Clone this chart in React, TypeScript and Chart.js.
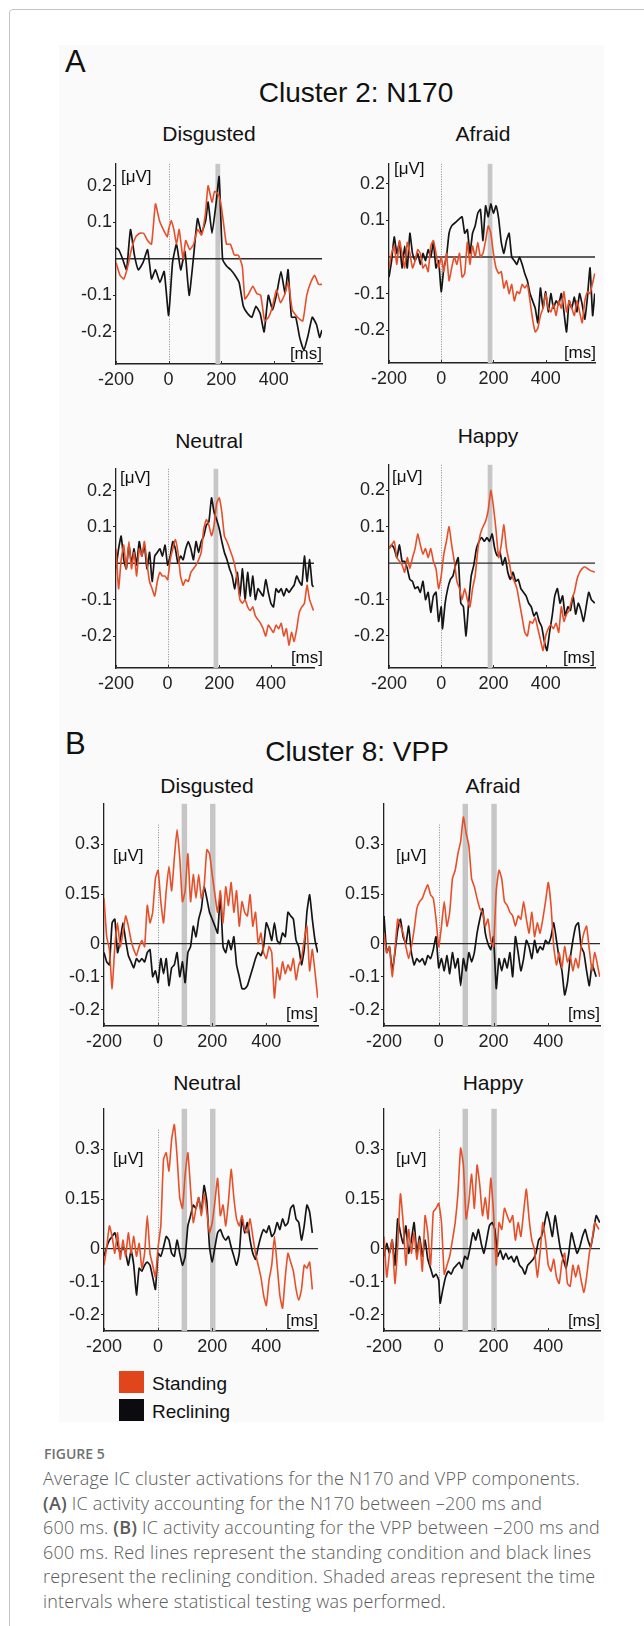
import React, { useEffect, useRef } from "react";
import { Chart, registerables } from "chart.js";

Chart.register(...registerables);
Chart.defaults.font.family = "'Liberation Sans', Arial, sans-serif";

type P = [number, number][];

// ---------- Panel A: Cluster 2, N170 ----------
const A_DISG_RECL: P = [[-200,0.03],[-190,0.025],[-175,0],[-160,-0.03],[-145,0.08],[-130,0.01],[-115,-0.03],[-97,-0.01],[-80,0.025],[-65,-0.055],[-50,-0.03],[-33,-0.065],[-17,-0.035],[0,-0.155],[15,-0.01],[30,0.04],[46,-0.03],[62,0.02],[78,-0.1],[94,0],[110,0.11],[125,0.07],[141,0.105],[150,0.155],[165,0.07],[181,0.155],[192,0.225],[205,0],[220,-0.02],[236,-0.03],[252,-0.045],[268,-0.065],[284,-0.13],[300,-0.15],[316,-0.16],[332,-0.13],[348,-0.15],[363,-0.2],[379,-0.1],[395,-0.14],[411,-0.095],[427,-0.035],[443,-0.095],[454,-0.03],[467,-0.16],[483,-0.16],[498,-0.215],[514,-0.25],[530,-0.21],[546,-0.16],[562,-0.18],[574,-0.215],[583,-0.195]];
const A_DISG_STAND: P = [[-200,-0.01],[-185,-0.045],[-170,-0.055],[-155,-0.02],[-140,0.03],[-125,0.06],[-110,0.07],[-95,0.07],[-80,0.05],[-65,0.04],[-50,0.15],[-35,0.105],[-20,0.08],[-5,0.06],[0,0.08],[10,0.105],[20,0.08],[30,0.04],[40,0.08],[55,0],[65,0.05],[80,0.025],[95,0.04],[110,0.08],[125,0.065],[140,0.125],[150,0.2],[165,0.155],[175,0.185],[190,0.175],[200,0.145],[210,0.09],[220,0.04],[235,0.04],[250,0.01],[265,0.01],[280,-0.02],[290,-0.11],[305,-0.095],[320,-0.075],[335,-0.095],[350,-0.1],[365,-0.17],[380,-0.16],[395,-0.13],[410,-0.085],[425,-0.12],[440,-0.1],[455,-0.065],[470,-0.14],[490,-0.16],[510,-0.17],[525,-0.1],[540,-0.065],[555,-0.045],[570,-0.07],[583,-0.07]];

const A_AFR_RECL: P = [[-200,-0.055],[-190,-0.01],[-180,0.055],[-170,0.01],[-160,0.04],[-150,-0.03],[-140,0.03],[-130,-0.03],[-120,0.065],[-110,0.01],[-100,-0.01],[-90,0.01],[-80,-0.02],[-70,0.01],[-60,-0.01],[-50,0.02],[-40,0],[-30,0.04],[-20,-0.03],[-10,-0.01],[0,-0.095],[10,-0.03],[20,0],[30,0.065],[40,0.085],[55,0.095],[70,0.105],[80,0.11],[90,0.065],[100,0.075],[110,0.01],[120,0.065],[130,0.085],[140,0.12],[150,0.13],[160,0.045],[170,0.14],[180,0.11],[190,0.145],[200,0.12],[210,0.14],[220,0.105],[230,0.04],[240,0.01],[250,0.045],[260,0.065],[270,0],[280,-0.01],[290,-0.02],[300,0],[310,-0.02],[320,-0.045],[330,-0.065],[340,-0.1],[350,-0.12],[360,-0.14],[370,-0.18],[380,-0.085],[390,-0.14],[400,-0.095],[410,-0.15],[420,-0.1],[430,-0.14],[440,-0.12],[450,-0.13],[460,-0.1],[470,-0.15],[480,-0.205],[490,-0.12],[500,-0.14],[510,-0.11],[520,-0.15],[530,-0.1],[540,-0.13],[550,-0.17],[560,-0.11],[570,-0.03],[580,-0.16],[588,-0.1]];
const A_AFR_STAND: P = [[-200,-0.03],[-190,0.01],[-180,0.03],[-170,-0.02],[-160,0.045],[-150,0.01],[-140,-0.03],[-130,0.04],[-120,0.01],[-110,-0.03],[-100,-0.01],[-90,0.02],[-80,0.01],[-70,-0.03],[-60,-0.02],[-50,-0.04],[-40,0.03],[-30,0.045],[-20,0.01],[-10,-0.03],[0,0],[10,-0.04],[20,0.01],[30,-0.065],[40,-0.03],[50,0],[60,-0.02],[70,0.01],[80,-0.055],[90,-0.045],[100,0.04],[110,-0.02],[120,0.03],[130,0],[140,0.04],[150,0],[160,0.01],[170,0.045],[180,0.085],[190,0.065],[200,0.01],[210,-0.03],[220,-0.045],[230,-0.04],[240,-0.085],[250,-0.065],[260,-0.1],[270,-0.075],[280,-0.12],[290,-0.095],[300,-0.1],[310,-0.075],[320,-0.085],[330,-0.075],[340,-0.12],[350,-0.17],[360,-0.205],[370,-0.195],[380,-0.16],[390,-0.14],[400,-0.1],[410,-0.14],[420,-0.15],[430,-0.13],[440,-0.16],[450,-0.12],[460,-0.14],[470,-0.095],[480,-0.15],[490,-0.12],[500,-0.14],[510,-0.16],[520,-0.12],[530,-0.15],[540,-0.18],[550,-0.12],[560,-0.095],[570,-0.1],[588,-0.045]];

const A_NEU_RECL: P = [[-200,-0.015],[-190,0.04],[-180,0.075],[-170,0.01],[-160,-0.015],[-150,0.05],[-140,0],[-130,0.04],[-120,-0.005],[-110,0.06],[-100,0.02],[-90,0.05],[-80,-0.015],[-70,0.03],[-60,-0.05],[-50,0.02],[-40,0.03],[-30,0.04],[-20,0.02],[-10,0.05],[0,-0.005],[10,0.02],[20,0.06],[30,0.04],[40,0],[50,0.02],[60,0.01],[70,0.04],[80,0.06],[90,0.04],[100,0.01],[110,0.06],[120,0.03],[130,0.06],[140,0.075],[150,0.105],[160,0.115],[170,0.18],[180,0.14],[190,0.12],[200,0.095],[210,0.06],[220,0.03],[230,0.01],[240,-0.015],[250,-0.035],[260,-0.07],[270,-0.025],[280,-0.09],[290,-0.015],[300,-0.1],[310,-0.025],[320,-0.09],[330,-0.035],[340,-0.1],[350,-0.07],[360,-0.08],[370,-0.09],[380,-0.045],[390,-0.08],[400,-0.11],[410,-0.12],[420,-0.07],[430,-0.08],[440,-0.07],[450,-0.09],[460,-0.07],[470,-0.08],[480,-0.07],[490,-0.06],[500,-0.035],[510,-0.05],[520,-0.06],[530,0.02],[540,-0.05],[550,0.01],[560,-0.06],[565,-0.065]];
const A_NEU_STAND: P = [[-200,0.04],[-190,-0.07],[-180,0.01],[-170,0.05],[-160,-0.015],[-150,0.06],[-140,-0.015],[-130,0.03],[-120,-0.035],[-110,0.04],[-100,0.02],[-90,0.06],[-80,0],[-70,-0.05],[-60,-0.07],[-50,-0.09],[-40,-0.05],[-30,-0.025],[-20,-0.035],[-10,-0.035],[0,-0.045],[10,0.01],[20,0.04],[30,0.065],[40,0.03],[50,-0.035],[60,-0.06],[70,-0.045],[80,-0.05],[90,-0.025],[100,-0.015],[110,-0.005],[120,0.01],[130,0.03],[140,0.095],[150,0.12],[160,0.105],[170,0.075],[180,0.105],[190,0.165],[200,0.18],[210,0.14],[220,0.075],[230,0.06],[240,0.04],[250,0.02],[260,-0.005],[270,-0.045],[280,-0.1],[290,-0.11],[300,-0.1],[310,-0.12],[320,-0.13],[330,-0.12],[340,-0.145],[350,-0.155],[360,-0.165],[370,-0.18],[380,-0.2],[390,-0.17],[400,-0.18],[410,-0.19],[420,-0.17],[430,-0.18],[440,-0.165],[450,-0.2],[460,-0.18],[470,-0.225],[480,-0.19],[490,-0.215],[500,-0.18],[510,-0.135],[520,-0.12],[530,-0.11],[540,-0.06],[550,-0.1],[565,-0.13]];

const A_HAP_RECL: P = [[-200,0.04],[-190,0.05],[-180,0.04],[-170,0.015],[-160,0.05],[-150,0.005],[-140,0.005],[-130,-0.015],[-120,-0.045],[-110,-0.05],[-100,-0.07],[-90,-0.065],[-80,-0.08],[-70,-0.05],[-60,-0.1],[-50,-0.08],[-40,-0.135],[-30,-0.09],[-20,-0.08],[-10,-0.16],[0,-0.12],[5,-0.18],[15,-0.11],[25,-0.07],[35,-0.045],[45,-0.035],[55,-0.005],[65,0.015],[75,-0.11],[85,-0.12],[95,-0.2],[105,-0.11],[115,-0.035],[125,-0.005],[135,0.04],[145,0.06],[155,0.07],[165,0.06],[175,0.07],[185,0.06],[195,0.08],[205,0.04],[215,0.02],[225,0.03],[235,-0.005],[245,0.015],[255,-0.025],[265,-0.045],[275,-0.025],[285,-0.05],[295,-0.045],[305,-0.07],[315,-0.08],[325,-0.09],[335,-0.11],[345,-0.12],[355,-0.145],[365,-0.135],[375,-0.16],[385,-0.175],[395,-0.215],[405,-0.24],[415,-0.19],[425,-0.145],[435,-0.09],[445,-0.07],[455,-0.11],[465,-0.09],[475,-0.145],[485,-0.12],[495,-0.13],[505,-0.09],[515,-0.14],[525,-0.11],[535,-0.13],[545,-0.16],[555,-0.12],[565,-0.08],[575,-0.1],[588,-0.11]];
const A_HAP_STAND: P = [[-200,0.04],[-190,0.05],[-180,0.06],[-170,0.015],[-160,0.005],[-150,-0.005],[-140,-0.025],[-130,0.015],[-120,-0.015],[-110,0.015],[-100,0.04],[-90,0.08],[-80,0.05],[-70,0.025],[-60,0.04],[-50,0.015],[-40,0.04],[-30,0.005],[-20,-0.015],[-10,-0.07],[0,-0.035],[10,0.025],[20,0.06],[30,0.1],[40,0.05],[50,0.005],[60,-0.05],[70,-0.07],[80,-0.1],[90,-0.07],[100,-0.1],[110,-0.12],[120,-0.07],[130,-0.035],[140,0.035],[150,0.08],[160,0.1],[170,0.115],[180,0.145],[190,0.2],[200,0.155],[210,0.09],[220,0.015],[230,0.05],[240,0.105],[250,0.04],[260,0.005],[270,-0.035],[280,-0.05],[290,-0.07],[300,-0.11],[310,-0.15],[320,-0.19],[330,-0.2],[340,-0.16],[350,-0.165],[360,-0.15],[370,-0.18],[380,-0.21],[390,-0.24],[400,-0.2],[410,-0.18],[420,-0.17],[430,-0.18],[440,-0.165],[450,-0.19],[460,-0.12],[470,-0.16],[480,-0.14],[490,-0.13],[500,-0.1],[510,-0.08],[520,-0.045],[530,-0.025],[540,-0.015],[550,-0.01],[560,-0.015],[570,-0.02],[588,-0.025]];

// ---------- Panel B: Cluster 8, VPP ----------
const B_DISG_RECL: P = [[-200,-0.027],[-190,-0.055],[-180,-0.064],[-170,0.063],[-160,0.074],[-150,-0.027],[-140,0.01],[-130,0.063],[-120,0.01],[-110,-0.036],[-100,-0.055],[-90,-0.073],[-80,-0.045],[-70,-0.055],[-60,-0.045],[-50,-0.055],[-40,-0.027],[-30,-0.018],[-20,-0.1],[-10,-0.082],[0,-0.118],[10,-0.045],[20,-0.091],[30,-0.045],[40,-0.127],[50,-0.073],[60,-0.064],[70,-0.027],[80,-0.1],[90,-0.055],[100,-0.118],[110,-0.027],[120,-0.009],[130,0.053],[140,0.021],[150,0.074],[160,0.106],[170,0.172],[180,0.137],[190,0.095],[200,0.074],[210,0.053],[220,0.032],[230,0.148],[240,-0.009],[250,-0.027],[260,0.01],[270,-0.018],[280,0.021],[290,-0.064],[300,-0.1],[310,-0.136],[320,-0.136],[330,-0.127],[340,-0.1],[350,-0.073],[360,-0.045],[370,-0.027],[380,-0.036],[390,-0.009],[400,0.063],[410,0.042],[420,0.01],[430,0.063],[440,0.01],[450,0],[460,0.032],[470,0.021],[480,0.095],[490,0.084],[500,0.074],[510,0.01],[520,-0.009],[530,-0.064],[540,-0.018],[550,0.095],[560,0.148],[570,0.074],[580,0.01],[590,-0.027]];
const B_DISG_STAND: P = [[-200,0.137],[-190,0.021],[-180,-0.018],[-170,-0.136],[-160,-0.009],[-150,0.063],[-140,-0.009],[-130,0.032],[-120,0.084],[-110,0.053],[-100,0.01],[-90,-0.018],[-80,-0.036],[-70,-0.009],[-60,0.01],[-50,-0.009],[-40,0.116],[-30,0.063],[-20,0.095],[-10,0.197],[0,0.222],[10,0.127],[20,0.063],[30,0.16],[40,0.234],[50,0.16],[60,0.259],[70,0.345],[80,0.259],[90,0.127],[100,0.16],[110,0.272],[120,0.127],[130,0.209],[140,0.137],[150,0.209],[160,0.137],[170,0.172],[180,0.284],[190,0.272],[200,0.209],[210,0.148],[220,0.095],[230,0.16],[240,0.063],[250,0.172],[260,0.116],[270,0.185],[280,0.095],[290,0.16],[300,0.053],[310,0.127],[320,0.095],[330,0.084],[340,0.148],[350,0.053],[360,0.095],[370,0],[380,0.032],[390,-0.027],[400,-0.045],[410,-0.009],[420,-0.027],[430,-0.164],[440,-0.073],[450,-0.109],[460,-0.055],[470,-0.091],[480,-0.064],[490,-0.082],[500,-0.045],[510,-0.109],[520,-0.064],[530,-0.045],[540,0.01],[550,0.053],[560,-0.082],[570,-0.018],[590,-0.164]];

const B_AFR_RECL: P = [[-200,0.084],[-190,-0.027],[-180,-0.009],[-170,-0.082],[-160,-0.027],[-150,0.042],[-140,0.074],[-130,0.021],[-120,0],[-110,0.053],[-100,-0.027],[-90,-0.064],[-80,-0.045],[-70,-0.055],[-60,-0.045],[-50,-0.064],[-40,-0.036],[-30,-0.045],[-20,-0.018],[-10,0.021],[0,-0.073],[10,-0.045],[20,-0.082],[30,-0.036],[40,-0.091],[50,-0.027],[60,-0.073],[70,-0.045],[80,-0.127],[90,-0.045],[100,-0.082],[110,-0.027],[120,-0.055],[130,-0.027],[140,0.032],[150,0.074],[160,0.106],[170,0.032],[180,0],[190,-0.018],[200,0.021],[210,-0.136],[220,-0.045],[230,-0.082],[240,-0.045],[250,-0.073],[260,-0.027],[270,-0.1],[280,0.021],[290,-0.027],[300,-0.082],[310,-0.045],[320,0.01],[330,-0.009],[340,-0.045],[350,0.01],[360,-0.027],[370,-0.009],[380,-0.018],[390,0.01],[400,0],[410,0.021],[420,0.063],[430,0.01],[440,-0.045],[450,-0.082],[460,-0.155],[470,-0.118],[480,-0.045],[490,0.01],[500,0.053],[510,0.063],[520,-0.009],[530,-0.027],[540,-0.082],[550,-0.127],[560,-0.064],[575,-0.1]];
const B_AFR_STAND: P = [[-200,0.032],[-190,-0.027],[-180,-0.009],[-170,-0.1],[-160,-0.018],[-150,0.074],[-140,0.053],[-130,0.032],[-120,-0.009],[-110,-0.045],[-100,-0.009],[-90,0.042],[-80,0.106],[-70,0.127],[-60,0.137],[-50,0.16],[-40,0.178],[-30,0.148],[-20,0.137],[-10,0.074],[0,-0.009],[10,0.053],[20,0.127],[30,0.053],[40,0.095],[50,0.197],[60,0.222],[70,0.272],[80,0.309],[90,0.383],[100,0.334],[110,0.296],[120,0.197],[130,0.172],[140,0.137],[150,0.106],[160,0.095],[170,0.053],[180,0.074],[190,0.01],[200,-0.009],[210,0.16],[220,0.222],[230,0.197],[240,0.127],[250,0.116],[260,0.095],[270,0.084],[280,0.053],[290,0.084],[300,0.074],[310,0.127],[320,0.074],[330,0.032],[340,0.095],[350,0.021],[360,0.063],[370,0.032],[380,0.074],[390,0.127],[400,0.185],[410,0.116],[420,-0.009],[430,-0.064],[440,-0.027],[450,-0.073],[460,-0.009],[470,-0.055],[480,-0.036],[490,-0.082],[500,-0.045],[510,-0.073],[520,-0.009],[530,0.032],[540,0.053],[550,-0.018],[560,-0.082],[570,-0.027],[588,-0.1]];

const B_NEU_RECL: P = [[-200,-0.023],[-190,0.005],[-180,0.026],[-170,0.037],[-160,0.048],[-150,0.016],[-140,-0.014],[-130,0.005],[-120,-0.014],[-110,-0.05],[-100,-0.005],[-90,-0.05],[-80,-0.14],[-70,-0.059],[-60,-0.068],[-50,-0.05],[-40,-0.041],[-30,-0.05],[-20,-0.086],[-10,-0.123],[0,-0.014],[10,-0.023],[20,0.005],[30,0.037],[40,0.026],[50,-0.014],[60,-0.023],[70,0.026],[80,-0.014],[90,-0.05],[100,-0.023],[110,0.069],[120,0.1],[130,0.132],[140,0.122],[150,0.154],[160,0.111],[170,0.191],[180,0.143],[190,0.005],[200,-0.041],[210,0.005],[220,0.048],[230,0.058],[240,0.037],[250,0.026],[260,0.037],[270,0.005],[280,-0.023],[290,-0.05],[300,-0.014],[310,0.09],[320,0.048],[330,0.079],[340,0.026],[350,-0.014],[360,-0.032],[370,0.005],[380,0.037],[390,0.058],[400,0.048],[410,0.069],[420,0.037],[430,0.048],[440,0.079],[450,0.058],[460,0.09],[470,0.069],[480,0.079],[490,0.122],[500,0.132],[510,0.09],[520,0.079],[530,0.026],[540,0.069],[550,0.132],[560,0.111],[570,0.048]];
const B_NEU_STAND: P = [[-200,-0.05],[-190,0.005],[-180,0.069],[-170,0.037],[-160,-0.014],[-150,0.048],[-140,-0.032],[-130,0.026],[-120,-0.023],[-110,0.048],[-100,-0.014],[-90,0.037],[-80,-0.023],[-70,0.016],[-60,-0.059],[-50,-0.014],[-40,0.1],[-30,-0.014],[-20,-0.05],[-10,-0.086],[0,0.005],[10,0.069],[20,0.27],[30,0.29],[40,0.235],[50,0.33],[60,0.375],[70,0.28],[80,0.154],[90,0.122],[100,0.225],[110,0.29],[120,0.18],[130,0.079],[140,0.122],[150,0.154],[160,0.1],[170,0.166],[180,0.111],[190,0.048],[200,0.079],[210,0.143],[220,0.213],[230,0.1],[240,0.132],[250,0.069],[260,0.143],[270,0.24],[280,0.154],[290,0.09],[300,0.069],[310,0.1],[320,0.058],[330,0.048],[340,0.09],[350,0.037],[360,-0.014],[370,-0.05],[380,-0.086],[390,-0.141],[400,-0.172],[410,-0.095],[420,-0.05],[430,0.037],[440,-0.05],[450,-0.141],[460,-0.18],[470,-0.086],[480,-0.014],[490,-0.041],[500,-0.068],[510,-0.123],[520,-0.156],[530,-0.123],[540,-0.05],[550,-0.059],[560,-0.041],[570,-0.123]];

const B_HAP_RECL: P = [[-200,-0.023],[-190,0.016],[-180,-0.014],[-170,0.026],[-160,-0.05],[-150,0.09],[-140,0.048],[-130,0.016],[-120,0.069],[-110,-0.014],[-100,0.026],[-90,0.079],[-80,-0.014],[-70,0.037],[-60,-0.023],[-50,0.026],[-40,-0.032],[-30,-0.059],[-20,-0.086],[-10,-0.077],[0,-0.095],[5,-0.165],[15,-0.123],[25,-0.086],[35,-0.068],[45,-0.077],[55,-0.059],[65,-0.05],[75,-0.041],[85,-0.059],[95,-0.023],[105,-0.032],[115,0.005],[125,0.048],[135,0.026],[145,0.058],[155,0.016],[165,-0.014],[175,0.026],[185,0.069],[195,0.079],[205,0.058],[215,-0.023],[225,-0.005],[235,-0.032],[245,-0.014],[255,-0.032],[265,-0.023],[275,-0.041],[285,-0.023],[295,-0.05],[305,-0.059],[315,-0.077],[325,-0.05],[335,-0.041],[345,-0.032],[355,-0.014],[365,0.026],[375,0.037],[385,0.069],[395,0.111],[405,0.079],[415,0.037],[425,0.1],[435,0.048],[445,-0.005],[455,-0.032],[465,-0.059],[475,-0.014],[485,0.048],[495,0.016],[505,-0.014],[515,0.005],[525,0.037],[535,0.058],[545,0.026],[555,0.005],[565,0.048],[575,0.1],[588,0.079]];
const B_HAP_STAND: P = [[-200,0.037],[-190,-0.086],[-180,-0.014],[-170,0.026],[-160,-0.105],[-150,0.005],[-140,0.166],[-130,0.079],[-120,-0.05],[-110,0.058],[-100,-0.014],[-90,0.048],[-80,-0.032],[-70,0.026],[-60,-0.068],[-50,0.1],[-40,0.048],[-30,-0.05],[-20,0.111],[-10,0.122],[0,0.137],[10,0.079],[20,-0.077],[30,-0.05],[40,-0.023],[50,0.026],[60,0.079],[70,0.166],[80,0.304],[90,0.253],[100,0.09],[110,0.143],[120,0.225],[130,0.122],[140,0.253],[150,0.191],[160,0.1],[170,0.154],[180,0.09],[190,0.213],[200,0.111],[210,-0.05],[220,0.079],[230,0.058],[240,0.122],[250,0.1],[260,0.079],[270,0.1],[280,0.026],[290,0.079],[300,0.037],[310,0.111],[320,0.18],[330,0.09],[340,0.026],[350,-0.005],[360,-0.086],[370,-0.014],[380,0.079],[390,0.026],[400,-0.05],[410,-0.068],[420,-0.032],[430,-0.086],[440,-0.105],[450,-0.041],[460,-0.014],[470,-0.105],[480,-0.114],[490,-0.05],[500,-0.086],[510,-0.05],[520,-0.095],[530,-0.132],[540,-0.086],[550,-0.014],[560,0.026],[570,0.079],[585,0.058]];

// ---------- axes ----------
const X_TICKS = [-200, 0, 200, 400];
const A_Y_TICKS = [0.2, 0.1, -0.1, -0.2];
const B_Y_TICKS = [0.3, 0.15, 0, -0.1, -0.2];
const A_BANDS: [number, number][] = [[178, 196]];
const B_BANDS: [number, number][] = [[87, 107], [192, 212]];

const RED = "#e5502a";
const BLACK = "#151515";
const FONT = "'Liberation Sans', Arial, sans-serif";

interface Spec {
  standing: P; reclining: P;
  xMax: number; yMin: number; yMax: number; yTicks: number[];
  bands: [number, number][]; dotTop: number;
  l: number; r: number; t: number; b: number;
}

const PADL = 50, PADT = 10, PADR = 12, PADB = 36;

const overlay = {
  id: "overlay",
  beforeDatasetsDraw(chart: any) {
    const o = chart.options.plugins.overlay;
    const { ctx, chartArea: ca, scales } = chart;
    const xs = scales.x, ys = scales.y;
    ctx.save();
    ctx.fillStyle = "#c6c6c6";
    for (const [a, b] of o.bands) {
      const x1 = xs.getPixelForValue(a), x2 = xs.getPixelForValue(b);
      ctx.fillRect(x1, ca.top, x2 - x1, ca.bottom - ca.top);
    }
    const x0 = Math.round(xs.getPixelForValue(0)) + 0.5;
    ctx.strokeStyle = "#8a8a8a";
    ctx.lineWidth = 1;
    ctx.setLineDash([1, 1.5]);
    ctx.beginPath();
    ctx.moveTo(x0, ys.getPixelForValue(o.dotTop));
    ctx.lineTo(x0, ca.bottom);
    ctx.stroke();
    ctx.setLineDash([]);
    // small inward tick marks on the time axis
    ctx.strokeStyle = "#333";
    ctx.lineWidth = 1;
    for (const v of X_TICKS) {
      const x = Math.round(xs.getPixelForValue(v)) + 0.5;
      ctx.beginPath();
      ctx.moveTo(x, ca.bottom);
      ctx.lineTo(x, ca.bottom - 3);
      ctx.stroke();
    }
    const y0 = ys.getPixelForValue(0);
    ctx.strokeStyle = "#2a2a2a";
    ctx.lineWidth = 1.4;
    ctx.beginPath();
    ctx.moveTo(ca.left, y0);
    ctx.lineTo(ca.right, y0);
    ctx.stroke();
    ctx.restore();
  },
};

function EegChart({ s }: { s: Spec }) {
  const ref = useRef<HTMLCanvasElement>(null);
  const w = s.r - s.l + PADL + PADR;
  const h = s.b - s.t + PADT + PADB;
  useEffect(() => {
    const toXY = (p: P) => p.map(([x, y]) => ({ x, y }));
    const chart = new Chart(ref.current!, {
      type: "line",
      data: {
        datasets: [
          { data: toXY(s.standing), borderColor: RED, borderWidth: 1.6, pointRadius: 0, tension: 0.15 },
          { data: toXY(s.reclining), borderColor: BLACK, borderWidth: 1.7, pointRadius: 0, tension: 0.15 },
        ],
      },
      options: {
        animation: false,
        responsive: false,
        events: [],
        layout: { padding: { left: 0, top: PADT, right: PADR, bottom: 0 } },
        plugins: {
          legend: { display: false },
          tooltip: { enabled: false },
          overlay: { bands: s.bands, dotTop: s.dotTop },
        } as any,
        scales: {
          x: {
            type: "linear",
            min: -200,
            max: s.xMax,
            afterBuildTicks: (sc: any) => { sc.ticks = X_TICKS.map((v) => ({ value: v })); },
            afterFit: (sc: any) => { sc.height = PADB; },
            grid: { display: false, drawTicks: false, tickLength: 0 },
            border: { display: true, color: "#222", width: 1.5 },
            ticks: { color: "#222", font: { size: 18 }, padding: 5, maxRotation: 0, autoSkip: false, callback: (v: any) => String(v) },
          },
          y: {
            type: "linear",
            min: s.yMin,
            max: s.yMax,
            afterBuildTicks: (sc: any) => { sc.ticks = s.yTicks.map((v) => ({ value: v })); },
            afterFit: (sc: any) => { sc.width = PADL; },
            grid: { display: true, drawOnChartArea: false, drawTicks: true, tickLength: 3, color: "#222", lineWidth: 1 },
            border: { display: true, color: "#222", width: 1.3 },
            ticks: { color: "#222", font: { size: 18 }, padding: 1, autoSkip: false, callback: (v: any) => String(v) },
          },
        },
      },
      plugins: [overlay],
    } as any);
    return () => chart.destroy();
  }, []);
  return (
    <canvas
      ref={ref}
      width={w}
      height={h}
      style={{ position: "absolute", left: s.l - PADL, top: s.t - PADT, width: w, height: h }}
    />
  );
}

function Txt(props: { x: number; y: number; size: number; align?: "c" | "l" | "r"; children: React.ReactNode; color?: string; family?: string; weight?: number; ls?: number }) {
  const { x, y, size, align = "c", color = "#111", family = FONT, weight = 400, ls = 0 } = props;
  const tx = align === "c" ? "-50%" : align === "r" ? "-100%" : "0";
  return (
    <div
      style={{
        position: "absolute", left: x, top: y, fontSize: size, lineHeight: 1, fontFamily: family, fontWeight: weight,
        color, whiteSpace: "nowrap", letterSpacing: ls, transform: `translate(${tx}, -50%)`,
      }}
    >
      {props.children}
    </div>
  );
}

const SPECS: { title: string; tx: number; ty: number; uv: [number, number]; ms: [number, number]; s: Spec }[] = [
  { title: "Disgusted", tx: 209, ty: 133, uv: [121, 176], ms: [322, 353], s: { standing: A_DISG_STAND, reclining: A_DISG_RECL, xMax: 583, yMin: -0.288, yMax: 0.26, yTicks: A_Y_TICKS, bands: A_BANDS, dotTop: 0.26, l: 116, r: 322, t: 162, b: 364 } },
  { title: "Afraid", tx: 483, ty: 133, uv: [394, 168], ms: [596, 352], s: { standing: A_AFR_STAND, reclining: A_AFR_RECL, xMax: 589, yMin: -0.29, yMax: 0.255, yTicks: A_Y_TICKS, bands: A_BANDS, dotTop: 0.255, l: 389, r: 595, t: 162, b: 363 } },
  { title: "Neutral", tx: 209, ty: 440, uv: [120, 477], ms: [323, 657], s: { standing: A_NEU_STAND, reclining: A_NEU_RECL, xMax: 567, yMin: -0.288, yMax: 0.26, yTicks: A_Y_TICKS, bands: A_BANDS, dotTop: 0.26, l: 116, r: 314, t: 467, b: 668 } },
  { title: "Happy", tx: 488, ty: 435, uv: [392, 476], ms: [595, 657], s: { standing: A_HAP_STAND, reclining: A_HAP_RECL, xMax: 589, yMin: -0.288, yMax: 0.27, yTicks: A_Y_TICKS, bands: A_BANDS, dotTop: 0.27, l: 389, r: 595, t: 463, b: 668 } },
  { title: "Disgusted", tx: 207, ty: 785, uv: [113, 855], ms: [318, 1013], s: { standing: B_DISG_STAND, reclining: B_DISG_RECL, xMax: 591, yMin: -0.249, yMax: 0.423, yTicks: B_Y_TICKS, bands: B_BANDS, dotTop: 0.36, l: 104, r: 318, t: 802, b: 1026 } },
  { title: "Afraid", tx: 493, ty: 785, uv: [396, 855], ms: [600, 1013], s: { standing: B_AFR_STAND, reclining: B_AFR_RECL, xMax: 589, yMin: -0.249, yMax: 0.423, yTicks: B_Y_TICKS, bands: B_BANDS, dotTop: 0.36, l: 384, r: 600, t: 802, b: 1026 } },
  { title: "Neutral", tx: 207, ty: 1082, uv: [113, 1158], ms: [318, 1320], s: { standing: B_NEU_STAND, reclining: B_NEU_RECL, xMax: 591, yMin: -0.249, yMax: 0.423, yTicks: B_Y_TICKS, bands: B_BANDS, dotTop: 0.36, l: 104, r: 318, t: 1107, b: 1331 } },
  { title: "Happy", tx: 493, ty: 1082, uv: [396, 1158], ms: [600, 1320], s: { standing: B_HAP_STAND, reclining: B_HAP_RECL, xMax: 589, yMin: -0.249, yMax: 0.423, yTicks: B_Y_TICKS, bands: B_BANDS, dotTop: 0.36, l: 384, r: 600, t: 1107, b: 1331 } },
];

const CAPTION_FONT = "'Open Sans', 'Noto Sans', sans-serif";
const CAPTION: React.ReactNode[] = [
  "Average IC cluster activations for the N170 and VPP components.",
  <><b style={{ fontWeight: 600 }}>(A)</b> IC activity accounting for the N170 between –200 ms and</>,
  <>600 ms. <b style={{ fontWeight: 600 }}>(B)</b> IC activity accounting for the VPP between –200 ms and</>,
  "600 ms. Red lines represent the standing condition and black lines",
  "represent the reclining condition. Shaded areas represent the time",
  "intervals where statistical testing was performed.",
];

export default function App() {
  return (
    <div style={{ position: "fixed", left: 0, top: 0, width: 644, height: 1626, overflow: "hidden", background: "#fff" }}>
      <div style={{ position: "absolute", left: 9, top: 9, width: 700, height: 1700, border: "1px solid #c4c4c4", borderRadius: 4 }} />
      <div style={{ position: "absolute", left: 59, top: 45, width: 545, height: 1377, background: "#fafafa" }} />
      <Txt x={65} y={61} size={31} align="l">A</Txt>
      <Txt x={356} y={93} size={28}>Cluster 2: N170</Txt>
      <Txt x={65} y={743} size={31} align="l">B</Txt>
      <Txt x={357} y={752} size={28}>Cluster 8: VPP</Txt>
      {SPECS.map((p, i) => (
        <React.Fragment key={i}>
          <Txt x={p.tx} y={p.ty} size={21}>{p.title}</Txt>
          <EegChart s={p.s} />
          <Txt x={p.uv[0]} y={p.uv[1]} size={17} align="l">[μV]</Txt>
          <Txt x={p.ms[0]} y={p.ms[1]} size={17} align="r">[ms]</Txt>
        </React.Fragment>
      ))}
      <div style={{ position: "absolute", left: 119, top: 1371, width: 25, height: 22, background: "#e0451c" }} />
      <div style={{ position: "absolute", left: 119, top: 1399, width: 25, height: 22, background: "#0b0b10" }} />
      <Txt x={152} y={1383} size={19} align="l">Standing</Txt>
      <Txt x={152} y={1411} size={19} align="l">Reclining</Txt>
      <Txt x={44} y={1454} size={14} align="l" color="#707070" family={CAPTION_FONT} weight={600}>FIGURE 5</Txt>
      {CAPTION.map((line, i) => (
        <Txt key={i} x={43} y={1478 + i * 24.5} size={18} align="l" color="#5a5a5a" family={CAPTION_FONT} weight={300} ls={0.2}>{line}</Txt>
      ))}
    </div>
  );
}
